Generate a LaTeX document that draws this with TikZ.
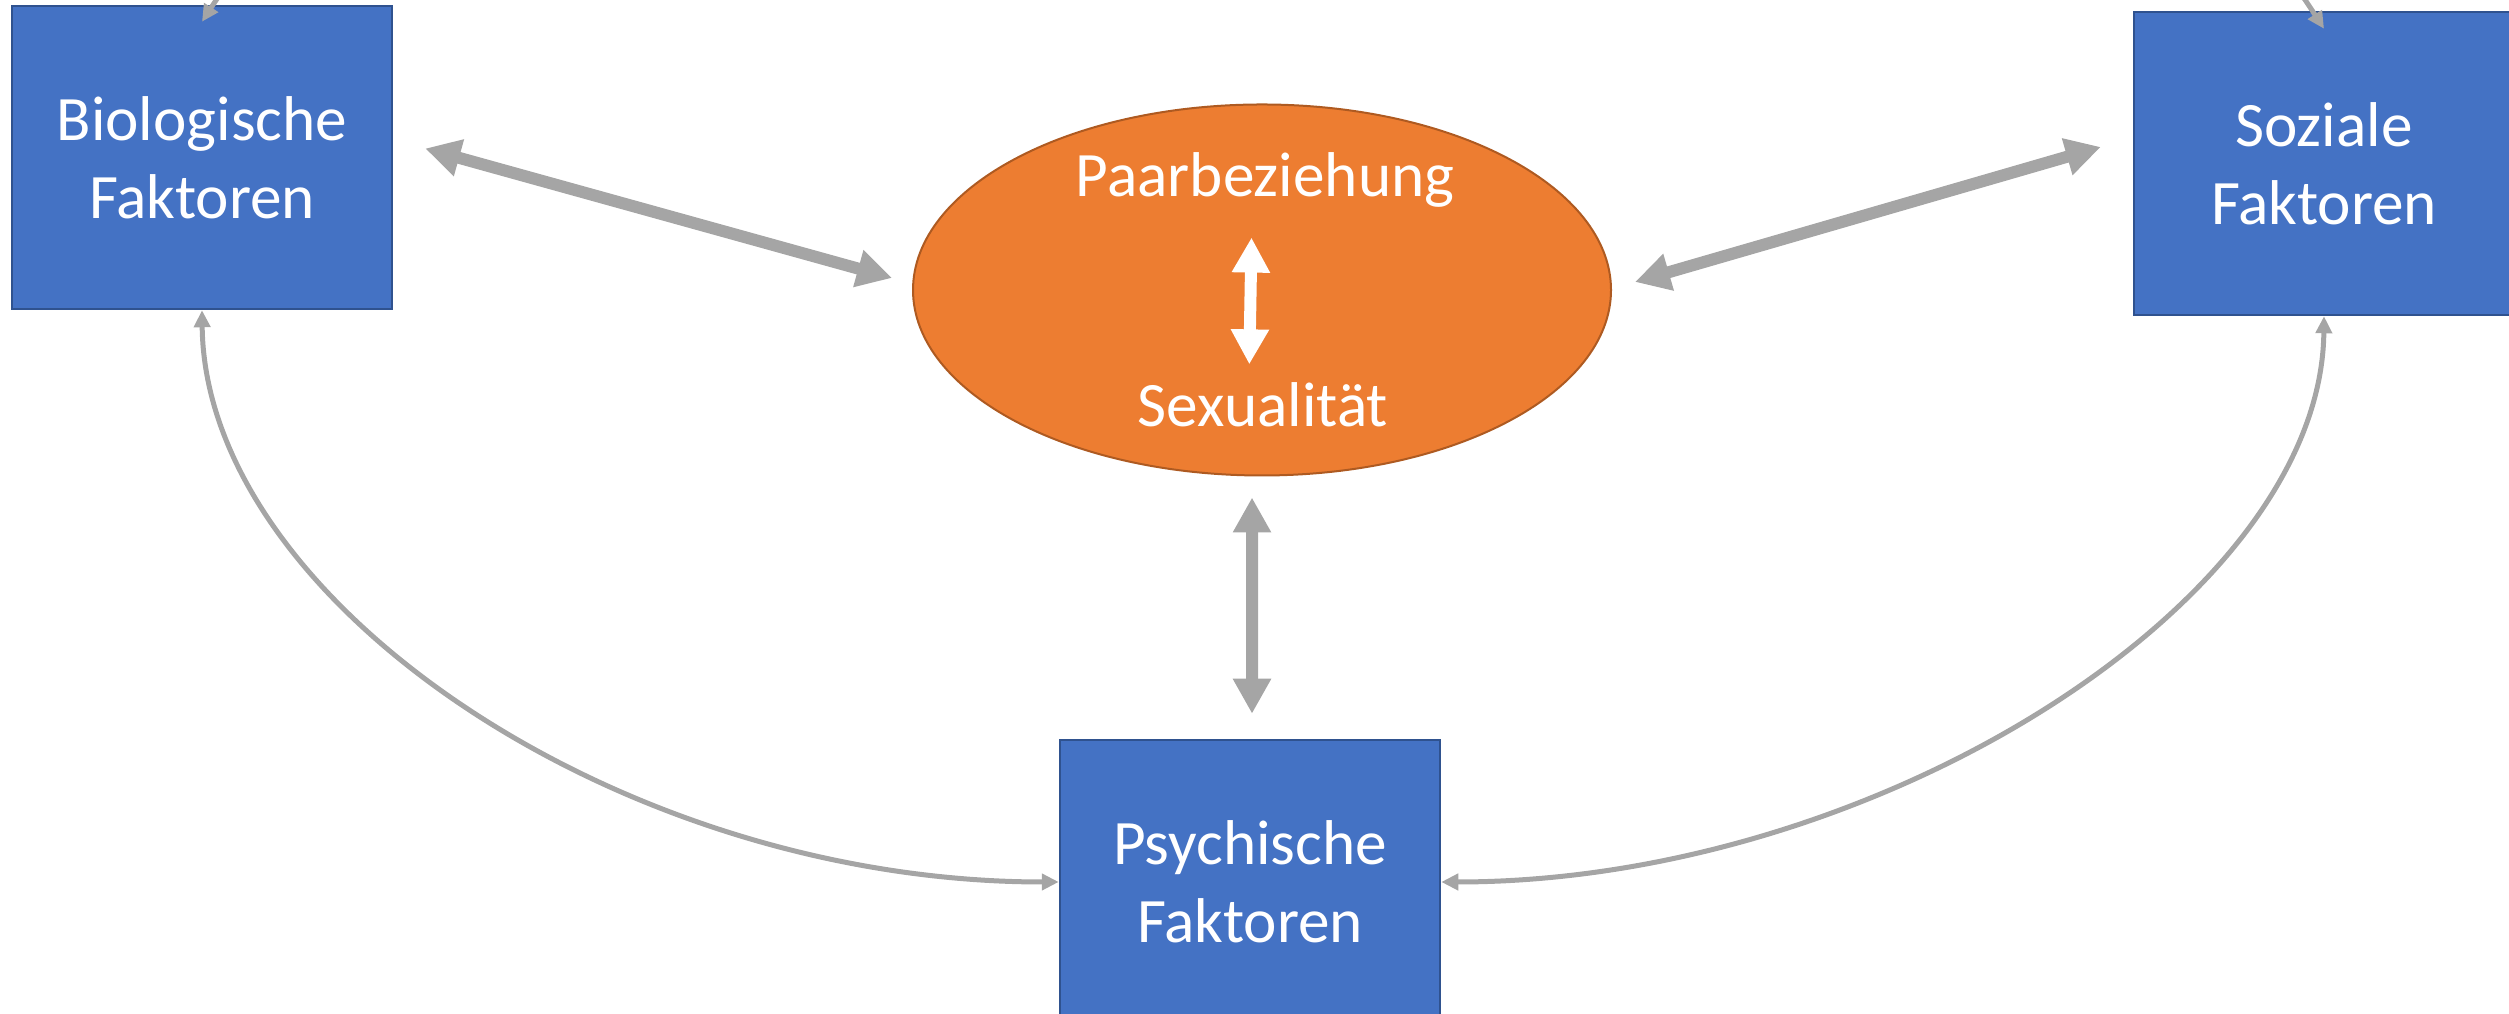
\documentclass[tikz,border=0pt]{standalone}
\usepackage{fontspec}
\setmainfont{Carlito}
\usepackage{tikz}
\usetikzlibrary{arrows.meta, shapes.geometric}

\definecolor{boxblue}{HTML}{4472C4}
\definecolor{boxedge}{HTML}{2F528F}
\definecolor{ellorange}{HTML}{ED7D31}
\definecolor{elledge}{HTML}{AE5A21}
\definecolor{arrowgray}{HTML}{A5A5A5}

\begin{document}
\begin{tikzpicture}[
    txt/.style={font=\fontsize{18}{22.2}\selectfont, text=white},
    factor/.style={txt, rectangle, fill=boxblue, draw=boxedge, line width=0.025cm,
        minimum width=3.8cm, minimum height=3.03cm, inner sep=0pt, align=center},
    bigarrow/.style={draw=arrowgray, line width=0.12cm,
        {Triangle[length=0.35cm, width=0.36cm]}-{Triangle[length=0.35cm, width=0.36cm]}},
    thinarrow/.style={draw=arrowgray, line width=0.05cm,
        {Triangle[length=0.17cm, width=0.16cm]}-{Triangle[length=0.17cm, width=0.16cm]}}
]
    \useasboundingbox (0,0) rectangle (25.09,10.14);
    \clip (0,0) rectangle (25.09,10.14);

    % Draw the three factor boxes
    \node[factor] (bio) at (2.02,8.565) {Biologische\\Faktoren};
    \node[factor] (soz) at (23.24,8.505) {Soziale\\Faktoren};
    \node[factor, minimum height=2.84cm] (psy) at (12.50,1.32) {Psychische\\Faktoren};

    % Draw the central ellipse
    \node[ellipse, fill=ellorange, draw=elledge, line width=0.02cm,
        minimum width=6.98cm, minimum height=3.71cm, inner sep=0pt] (ell) at (12.62,7.24) {};
    \node[txt, anchor=base, inner sep=0pt] (paar) at (12.65,8.17) {Paarbeziehung};
    \node[txt, anchor=base, inner sep=0pt] (sex) at (12.63,5.87) {Sexualität};
    \draw[white, line width=0.12cm, shorten <=0.29cm, shorten >=0.18cm,
        {Triangle[length=0.35cm, width=0.36cm]}-{Triangle[length=0.35cm, width=0.36cm]}]
        ([xshift=-0.13cm]paar.south) -- ([xshift=-0.14cm]sex.north);

    % Draw the straight links to the ellipse
    \draw[bigarrow] ([xshift=0.32cm,yshift=0.09cm]bio.east) -- ([xshift=-0.20cm,yshift=0.12cm]ell.west);
    \draw[bigarrow] ([xshift=0.23cm,yshift=0.08cm]ell.east) -- ([xshift=-0.32cm,yshift=0.165cm]soz.west);
    \draw[bigarrow] ([xshift=-0.10cm,yshift=-0.21cm]ell.south) -- ([xshift=0.02cm,yshift=0.25cm]psy.north);

    % Draw the curved links between the factors
    \draw[thinarrow] (bio.south) .. controls +(0.03,-2.9) and +(-4.4,0) .. (psy.west);
    \draw[thinarrow] (soz.south) .. controls +(-0.03,-2.85) and +(4.35,0) .. (psy.east);
    \draw[thinarrow] ([yshift=-0.17cm]bio.north) to[out=57, in=123] ([yshift=-0.18cm]soz.north);

\end{tikzpicture}
\end{document}
